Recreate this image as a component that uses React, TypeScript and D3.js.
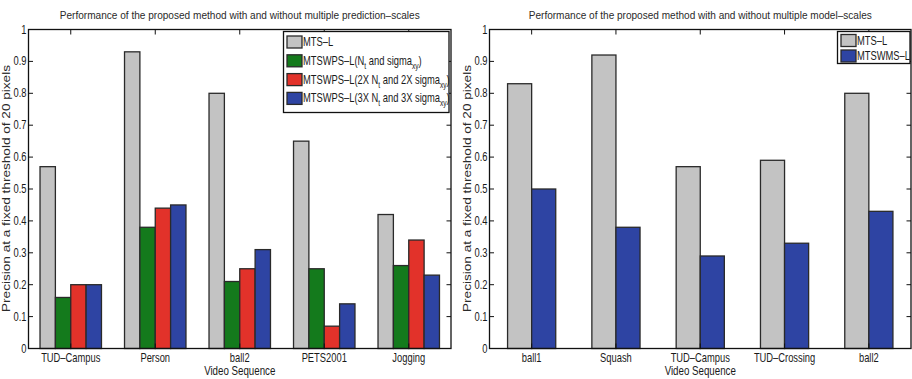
import React from "react";
import * as d3 from "d3";

const leftCategories = ["TUD\u2013Campus", "Person", "ball2", "PETS2001", "Jogging"];
const leftMTSL = [0.57, 0.93, 0.8, 0.65, 0.42];
const leftWPS1 = [0.16, 0.38, 0.21, 0.25, 0.26];
const leftWPS2 = [0.2, 0.44, 0.25, 0.07, 0.34];
const leftWPS3 = [0.2, 0.45, 0.31, 0.14, 0.23];

const rightCategories = ["ball1", "Squash", "TUD\u2013Campus", "TUD\u2013Crossing", "ball2"];
const rightMTSL = [0.83, 0.92, 0.57, 0.59, 0.8];
const rightWMS = [0.5, 0.38, 0.29, 0.33, 0.43];

const yTicks = [0, 0.1, 0.2, 0.3, 0.4, 0.5, 0.6, 0.7, 0.8, 0.9, 1];
const yTickLabels = ["0", "0.1", "0.2", "0.3", "0.4", "0.5", "0.6", "0.7", "0.8", "0.9", "1"];

const leftTitle = "Performance of the proposed method with and without multiple prediction\u2013scales";
const rightTitle = "Performance of the proposed method with and without multiple model\u2013scales";
const yLabel = "Precision at a fixed threshold of 20 pixels";
const xLabel = "Video Sequence";

const GRAY = "#c3c3c3";
const GREEN = "#147a1c";
const RED = "#e2322a";
const BLUE = "#2e44a3";
const STROKE = "#2a2a2a";
const FONT = "'Liberation Sans', Arial, sans-serif";
const SX = 0.78;

function NText(props: {
  x: number;
  y: number;
  anchor?: "start" | "middle" | "end";
  size?: number;
  children: React.ReactNode;
}) {
  return (
    <g transform={`translate(${props.x},${props.y}) scale(${SX},1)`}>
      <text
        x={0}
        y={0}
        textAnchor={props.anchor || "start"}
        fontSize={props.size || 11.5}
        fontFamily={FONT}
        fill="#1a1a1a"
      >
        {props.children}
      </text>
    </g>
  );
}

type LegendItem = { color: string; label: React.ReactNode };

function Panel(props: {
  x0: number;
  x1: number;
  title: string;
  titleLen: number;
  categories: string[];
  series: number[][];
  colors: string[];
  legend: LegendItem[];
  legendBox: { x: number; y: number; w: number; h: number; rowStart: number; rowStep: number };
}) {
  const { x0, x1, categories, series, colors } = props;
  const yTop = 29.5;
  const yBot = 348.5;
  const x = d3.scaleLinear().domain([0.5, categories.length + 0.5]).range([x0, x1]);
  const y = d3.scaleLinear().domain([0, 1]).range([yBot, yTop]);
  const n = series.length;
  const groupW = Math.min(0.8, n / (n + 1.5));
  const barW = groupW / n;
  const cx = (x0 + x1) / 2;
  const lb = props.legendBox;
  return (
    <g>
      <text
        x={cx}
        y={19}
        textAnchor="middle"
        fontSize={11}
        fontFamily={FONT}
        fill="#2a2a2a"
        textLength={props.titleLen}
        lengthAdjust="spacingAndGlyphs"
      >
        {props.title}
      </text>
      {series.map((vals, si) =>
        vals.map((v, ci) => {
          const left = ci + 1 - groupW / 2 + si * barW;
          const bx = x(left);
          const bw = x(left + barW) - bx;
          return (
            <rect
              key={`b${si}-${ci}`}
              x={bx}
              y={y(v)}
              width={bw}
              height={yBot - y(v)}
              fill={colors[si]}
              stroke={STROKE}
              strokeWidth={1.3}
            />
          );
        })
      )}
      <rect x={x0} y={yTop} width={x1 - x0} height={yBot - yTop} fill="none" stroke="#111" strokeWidth={1.3} />
      {yTicks.map((t, i) => (
        <g key={`yt${i}`}>
          <line x1={x0} x2={x0 + 4.5} y1={y(t)} y2={y(t)} stroke="#111" strokeWidth={1} />
          <line x1={x1} x2={x1 - 4.5} y1={y(t)} y2={y(t)} stroke="#111" strokeWidth={1} />
          <NText x={x0 - 2} y={y(t) + 4} anchor="end" size={12}>
            {yTickLabels[i]}
          </NText>
        </g>
      ))}
      {categories.map((c, i) => (
        <g key={`xt${i}`}>
          <line x1={x(i + 1)} x2={x(i + 1)} y1={yTop} y2={yTop + 5} stroke="#111" strokeWidth={1} />
          <line x1={x(i + 1)} x2={x(i + 1)} y1={yBot} y2={yBot - 5} stroke="#111" strokeWidth={1} />
          <NText x={x(i + 1)} y={362} anchor="middle" size={12}>
            {c}
          </NText>
        </g>
      ))}
      <NText x={cx} y={374.5} anchor="middle" size={12.5}>
        {xLabel}
      </NText>
      <text
        transform={`translate(${x0 - 19},${188.5}) rotate(-90)`}
        textAnchor="middle"
        fontSize={11}
        fontFamily={FONT}
        fill="#2a2a2a"
        textLength={247}
        lengthAdjust="spacingAndGlyphs"
      >
        {yLabel}
      </text>
      <rect x={lb.x} y={lb.y} width={lb.w} height={lb.h} fill="#fff" stroke="#111" strokeWidth={1.3} />
      {props.legend.map((it, i) => {
        const cy = lb.rowStart + i * lb.rowStep;
        return (
          <g key={`lg${i}`}>
            <rect x={lb.x + 3.5} y={cy - 6} width={15} height={12} fill={it.color} stroke={STROKE} strokeWidth={1.3} />
            <NText x={lb.x + 19.5} y={cy + 4} size={12}>
              {it.label}
            </NText>
          </g>
        );
      })}
    </g>
  );
}

const Sub = (props: { children: React.ReactNode }) => (
  <tspan fontSize={8.5} dy={4}>
    {props.children}
  </tspan>
);
const Up = (props: { children: React.ReactNode }) => <tspan dy={-4}>{props.children}</tspan>;

export default function App() {
  const leftLegend: LegendItem[] = [
    { color: GRAY, label: "MTS\u2013L" },
    {
      color: GREEN,
      label: (
        <>
          {"MTSWPS\u2013L(N"}
          <Sub>t</Sub>
          <Up>{" and sigma"}</Up>
          <Sub>xy</Sub>
          <Up>)</Up>
        </>
      ),
    },
    {
      color: RED,
      label: (
        <>
          {"MTSWPS\u2013L(2X N"}
          <Sub>t</Sub>
          <Up>{" and 2X sigma"}</Up>
          <Sub>xy</Sub>
          <Up>)</Up>
        </>
      ),
    },
    {
      color: BLUE,
      label: (
        <>
          {"MTSWPS\u2013L(3X N"}
          <Sub>t</Sub>
          <Up>{" and 3X sigma"}</Up>
          <Sub>xy</Sub>
          <Up>)</Up>
        </>
      ),
    },
  ];
  const rightLegend: LegendItem[] = [
    { color: GRAY, label: "MTS\u2013L" },
    { color: BLUE, label: "MTSWMS\u2013L" },
  ];
  return (
    <svg width={912} height={379} style={{ position: "absolute", left: 0, top: 0, background: "#fff" }}>
      <rect width={912} height={379} fill="#fff" />
      <Panel
        x0={28.5}
        x1={451}
        title={leftTitle}
        titleLen={360}
        categories={leftCategories}
        series={[leftMTSL, leftWPS1, leftWPS2, leftWPS3]}
        colors={[GRAY, GREEN, RED, BLUE]}
        legend={leftLegend}
        legendBox={{ x: 283.5, y: 31.5, w: 165.5, h: 81, rowStart: 42, rowStep: 18.8 }}
      />
      <Panel
        x0={489.5}
        x1={911}
        title={rightTitle}
        titleLen={343}
        categories={rightCategories}
        series={[rightMTSL, rightWMS]}
        colors={[GRAY, BLUE]}
        legend={rightLegend}
        legendBox={{ x: 837.5, y: 31.5, w: 72.5, h: 32, rowStart: 40.5, rowStep: 15.5 }}
      />
    </svg>
  );
}
